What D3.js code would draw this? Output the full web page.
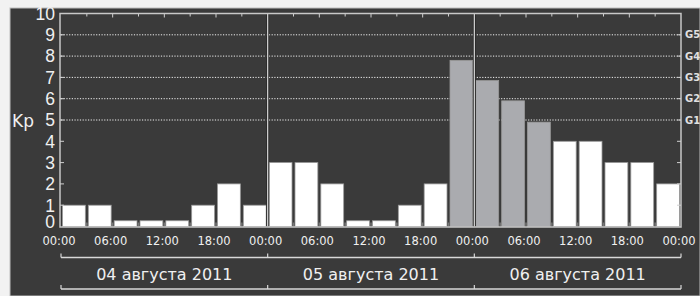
<!DOCTYPE html>
<html lang="ru">
<head>
<meta charset="utf-8">
<title>Kp</title>
<script src="https://d3js.org/d3.v7.min.js"></script>
<style>
  body { margin: 0; background: #f2f2f2; }
  svg text { font-family: "DejaVu Sans", Verdana, sans-serif; }
  .grid line { stroke: #f0f0f0; stroke-width: 1; stroke-dasharray: 1.2 1.5; }
</style>
</head>
<body>
<script>
var w = 700, h = 296;

// Kp index every 3 hours, 04-06 Aug 2011
var kpValues = [1, 1, 0.27, 0.27, 0.27, 1, 2, 1,
                3, 3, 2, 0.27, 0.27, 1, 2, 7.8,
                6.85, 5.9, 4.9, 4, 4, 3, 3, 2];
var hourLabels = ["00:00", "06:00", "12:00", "18:00"];
var dayLabels = ["04 августа 2011", "05 августа 2011", "06 августа 2011"];
var yTicks = [0, 1, 2, 3, 4, 5, 6, 7, 8, 9, 10];
var stormLevels = ["G1", "G2", "G3", "G4", "G5"];
var stormKp = [5, 6, 7, 8, 9];

var pLeft = 61, pRight = 681, pTop = 13.5, pBottom = 226.5;

var svg = d3.select("body").append("svg")
    .attr("width", w).attr("height", h);

// dark panel
svg.append("rect")
    .attr("x", 10).attr("y", 8).attr("width", w - 10).attr("height", h - 8)
    .attr("fill", "#3a3a3a").attr("stroke", "#bdbdbd").attr("stroke-width", 1);

var x = d3.scaleLinear().domain([0, 72]).range([pLeft, pRight]);
var y = d3.scaleLinear().domain([0, 10]).range([pBottom, pTop]);
var step = x(3) - x(0);

// dotted grid for storm levels
svg.append("g").attr("class", "grid")
  .selectAll("line")
  .data(stormKp)
  .enter().append("line")
    .attr("x1", pLeft).attr("x2", pRight)
    .attr("y1", function(d) { return y(d); })
    .attr("y2", function(d) { return y(d); });

// bars
svg.selectAll("rect.bar")
    .data(kpValues)
    .enter().append("rect")
    .attr("class", "bar")
    .attr("x", function(d, i) { return x(i * 3) + 1.5; })
    .attr("y", function(d) { return y(d); })
    .attr("width", step - 3)
    .attr("height", function(d) { return y(0) - y(d); })
    .attr("fill", function(d) { return d > 4.5 ? "#aaabaf" : "#ffffff"; })
    .attr("stroke", "#9a9a9a")
    .attr("stroke-width", 0.8);

// small ticks between bars at the bottom and top
var t3 = d3.range(1, 24);
svg.selectAll("line.btick")
    .data(t3)
    .enter().append("line")
    .attr("class", "btick")
    .attr("x1", function(d) { return x(d * 3); })
    .attr("x2", function(d) { return x(d * 3); })
    .attr("y1", y(0)).attr("y2", y(0) - 4)
    .attr("stroke", "#777").attr("stroke-width", 1.5);

svg.selectAll("line.ttick")
    .data(t3)
    .enter().append("line")
    .attr("class", "ttick")
    .attr("x1", function(d) { return x(d * 3); })
    .attr("x2", function(d) { return x(d * 3); })
    .attr("y1", pTop).attr("y2", function(d) { return pTop + (d % 2 == 0 ? 4 : 3); })
    .attr("stroke", "#cfcfcf").attr("stroke-width", 1);

// day dividers
svg.selectAll("line.day")
    .data([24, 48])
    .enter().append("line")
    .attr("class", "day")
    .attr("x1", function(d) { return x(d); })
    .attr("x2", function(d) { return x(d); })
    .attr("y1", pTop).attr("y2", pBottom)
    .attr("stroke", "#2a2a2a").attr("stroke-width", 3);
svg.selectAll("line.day2")
    .data([24, 48])
    .enter().append("line")
    .attr("class", "day2")
    .attr("x1", function(d) { return x(d); })
    .attr("x2", function(d) { return x(d); })
    .attr("y1", pTop).attr("y2", pBottom)
    .attr("stroke", "#d8d8d8").attr("stroke-width", 1.2);

// frame
svg.append("rect")
    .attr("x", pLeft - 1).attr("y", pTop)
    .attr("width", pRight - pLeft + 1).attr("height", pBottom - pTop + 0.5)
    .attr("fill", "none").attr("stroke", "#c8c8c8").attr("stroke-width", 1.5);

// y ticks left and right
svg.selectAll("line.yl")
    .data(yTicks.slice(1, 10))
    .enter().append("line")
    .attr("class", "yl")
    .attr("x1", pLeft - 1).attr("x2", pLeft + 3)
    .attr("y1", function(d) { return y(d); }).attr("y2", function(d) { return y(d); })
    .attr("stroke", "#d0d0d0");
svg.selectAll("line.yr")
    .data(yTicks.slice(1, 10))
    .enter().append("line")
    .attr("class", "yr")
    .attr("x1", pRight - 4).attr("x2", pRight)
    .attr("y1", function(d) { return y(d); }).attr("y2", function(d) { return y(d); })
    .attr("stroke", "#d0d0d0");

// y labels
svg.selectAll("text.ylab")
    .data(yTicks)
    .enter().append("text")
    .attr("class", "ylab")
    .attr("x", 55)
    .attr("y", function(d) { return y(d) + (d == 0 ? -5 : 0); })
    .attr("dy", "0.36em")
    .attr("text-anchor", "end")
    .attr("font-size", 17.5)
    .style("font-family", "'Liberation Sans', Arial, sans-serif")
    .attr("fill", "#f0f0f0")
    .text(function(d) { return d; });

svg.append("text")
    .attr("x", 12).attr("y", 127)
    .attr("font-size", 17).attr("fill", "#f0f0f0")
    .text("Kp");

// storm level labels
svg.selectAll("text.g")
    .data(stormLevels)
    .enter().append("text")
    .attr("class", "g")
    .attr("x", 685)
    .attr("y", function(d, i) { return y(stormKp[i]); })
    .attr("dy", "0.36em")
    .attr("font-size", 10).attr("font-weight", "bold")
    .attr("fill", "#e0e0e0")
    .text(function(d) { return d; });

// hour labels
var hourTicks = d3.range(0, 73, 6);
svg.selectAll("text.hour")
    .data(hourTicks)
    .enter().append("text")
    .attr("class", "hour")
    .attr("x", function(d) { return x(d) - 2; })
    .attr("y", 245)
    .attr("text-anchor", "middle")
    .attr("font-size", 11.5)
    .attr("fill", "#f0f0f0")
    .text(function(d) { return hourLabels[(d / 6) % 4]; });

// day brackets
function bracket(yy) {
  var g = svg.append("g");
  g.append("line")
    .attr("x1", x(0)).attr("x2", x(72))
    .attr("y1", yy).attr("y2", yy)
    .attr("stroke", "#d8d8d8").attr("stroke-width", 1.5);
  g.selectAll("line.bt")
    .data([0, 24, 48, 72])
    .enter().append("line")
    .attr("class", "bt")
    .attr("x1", function(d) { return x(d); })
    .attr("x2", function(d) { return x(d); })
    .attr("y1", yy).attr("y2", yy - 4)
    .attr("stroke", "#d8d8d8").attr("stroke-width", 1.2);
}
bracket(257.5);
bracket(289);

svg.selectAll("text.dayl")
    .data(dayLabels)
    .enter().append("text")
    .attr("class", "dayl")
    .attr("x", function(d, i) { return x(i * 24 + 12); })
    .attr("y", 280)
    .attr("text-anchor", "middle")
    .attr("font-size", 16)
    .attr("fill", "#f0f0f0")
    .text(function(d) { return d; });
</script>
</body>
</html>
